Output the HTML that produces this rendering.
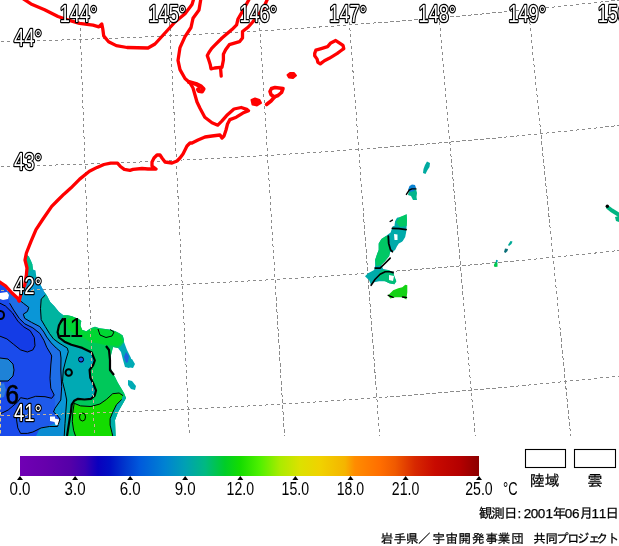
<!DOCTYPE html>
<html><head><meta charset="utf-8"><style>
html,body{margin:0;padding:0;background:#fff;}
body{width:619px;height:546px;overflow:hidden;}
svg{display:block;}
</style></head><body>
<svg width="619" height="546" viewBox="0 0 619 546">
<defs><linearGradient id="cb" x1="0" x2="1" y1="0" y2="0"><stop offset="0.0000" stop-color="#7000b4"/><stop offset="0.0545" stop-color="#6600ac"/><stop offset="0.1089" stop-color="#5500a8"/><stop offset="0.1416" stop-color="#3a00b0"/><stop offset="0.1699" stop-color="#0a00be"/><stop offset="0.1961" stop-color="#0010c3"/><stop offset="0.2288" stop-color="#0037cd"/><stop offset="0.2614" stop-color="#005adc"/><stop offset="0.3159" stop-color="#0082d2"/><stop offset="0.3595" stop-color="#00a0b4"/><stop offset="0.4031" stop-color="#00b982"/><stop offset="0.4466" stop-color="#00cd28"/><stop offset="0.4793" stop-color="#14dc00"/><stop offset="0.5229" stop-color="#50f000"/><stop offset="0.5664" stop-color="#aaeb00"/><stop offset="0.6100" stop-color="#dce100"/><stop offset="0.6536" stop-color="#f0d200"/><stop offset="0.7081" stop-color="#f5b400"/><stop offset="0.7298" stop-color="#ff8c00"/><stop offset="0.7843" stop-color="#ff6e00"/><stop offset="0.8170" stop-color="#f05a00"/><stop offset="0.8606" stop-color="#d72800"/><stop offset="0.9041" stop-color="#c80a00"/><stop offset="0.9586" stop-color="#b40000"/><stop offset="1.0000" stop-color="#8c0000"/></linearGradient>
<clipPath id="blobclip"><polygon points="27,255 28.8,256.5 31,261 32.3,264.2 33,269.4 35.5,270.6 36.2,275.8 36.8,280 38.5,282 40.3,284.4 43.6,291 46.9,295.4 50.2,302 54.6,306.4 59,311.9 63.4,315.2 67.7,315.2 72.1,316.3 75,317.4 78.4,318.8 81.3,321 80.5,325.4 82,329.7 86.3,331.2 90.7,328.3 95,326.8 99.4,328.3 105.2,329 111,329.7 115.4,331.2 119.8,333.4 122.7,335.5 124,340 124,342 127,350 131,358 132,365 129,368 125,367 123,360 121,352 118,348 113,347 111,355 110,365 112,372 115,377 118,383 121,388 124,393 126,398 122,405 118,412 115,420 115.3,430 115.5,436 0,436 0,282 5.5,285.8 12,293 18,298.5 19.2,301 21.4,292 24.7,285.3 26.4,274.8 27,268 25.5,260"/></clipPath>
<clipPath id="mapclip"><rect x="0" y="0" width="619" height="436"/></clipPath></defs>
<rect x="0" y="0" width="619" height="546" fill="#fff"/>
<g clip-path="url(#mapclip)">
<g fill="none" stroke="#8c8c8c" stroke-width="1" stroke-dasharray="3.5 2.5" shape-rendering="crispEdges"><line x1="-9.6" y1="22.0" x2="-0.4" y2="438.0"/><line x1="80.0" y1="22.0" x2="94.5" y2="438.0"/><line x1="169.7" y1="22.0" x2="189.5" y2="438.0"/><line x1="259.5" y1="22.0" x2="284.6" y2="438.0"/><line x1="349.4" y1="22.0" x2="379.8" y2="438.0"/><line x1="439.5" y1="22.0" x2="475.3" y2="438.0"/><line x1="529.8" y1="22.0" x2="570.9" y2="438.0"/><line x1="620.3" y1="22.0" x2="666.8" y2="438.0"/><line x1="711.1" y1="22.0" x2="762.9" y2="438.0"/><polyline points="-5.0,41.9 11.2,41.5 27.3,41.1 43.5,40.6 59.6,40.1 75.8,39.6 91.9,39.0 108.1,38.4 124.2,37.8 140.4,37.1 156.5,36.4 172.7,35.6 188.8,34.8 205.0,34.0 221.2,33.1 237.3,32.2 253.5,31.3 269.6,30.3 285.8,29.3 301.9,28.2 318.1,27.1 334.2,26.0 350.4,24.8 366.5,23.6 382.7,22.4 398.8,21.1 415.0,19.8 431.2,18.5 447.3,17.1 463.5,15.7 479.6,14.2 495.8,12.7 511.9,11.1 528.1,9.6 544.2,8.0 560.4,6.3 576.5,4.6 592.7,2.9 608.8,1.1 625.0,-0.7"/><polyline points="-5.0,166.7 11.2,166.3 27.3,165.9 43.5,165.4 59.6,164.9 75.8,164.4 91.9,163.9 108.1,163.3 124.2,162.6 140.4,162.0 156.5,161.2 172.7,160.5 188.8,159.7 205.0,158.9 221.2,158.1 237.3,157.2 253.5,156.2 269.6,155.3 285.8,154.3 301.9,153.3 318.1,152.2 334.2,151.1 350.4,149.9 366.5,148.8 382.7,147.5 398.8,146.3 415.0,145.0 431.2,143.7 447.3,142.3 463.5,140.9 479.6,139.5 495.8,138.0 511.9,136.5 528.1,134.9 544.2,133.3 560.4,131.7 576.5,130.1 592.7,128.4 608.8,126.6 625.0,124.9"/><polyline points="-5.0,290.9 11.2,290.6 27.3,290.2 43.5,289.7 59.6,289.2 75.8,288.7 91.9,288.2 108.1,287.6 124.2,287.0 140.4,286.3 156.5,285.6 172.7,284.9 188.8,284.1 205.0,283.3 221.2,282.5 237.3,281.6 253.5,280.7 269.6,279.8 285.8,278.8 301.9,277.8 318.1,276.7 334.2,275.6 350.4,274.5 366.5,273.3 382.7,272.1 398.8,270.9 415.0,269.6 431.2,268.3 447.3,267.0 463.5,265.6 479.6,264.2 495.8,262.7 511.9,261.3 528.1,259.7 544.2,258.2 560.4,256.6 576.5,255.0 592.7,253.3 608.8,251.6 625.0,249.8"/><polyline points="-5.0,415.8 11.2,415.4 27.3,415.0 43.5,414.6 59.6,414.1 75.8,413.6 91.9,413.1 108.1,412.5 124.2,411.9 140.4,411.2 156.5,410.5 172.7,409.8 188.8,409.1 205.0,408.3 221.2,407.5 237.3,406.6 253.5,405.7 269.6,404.8 285.8,403.8 301.9,402.8 318.1,401.8 334.2,400.7 350.4,399.6 366.5,398.5 382.7,397.3 398.8,396.1 415.0,394.8 431.2,393.6 447.3,392.2 463.5,390.9 479.6,389.5 495.8,388.1 511.9,386.6 528.1,385.1 544.2,383.6 560.4,382.0 576.5,380.4 592.7,378.8 608.8,377.1 625.0,375.4"/></g>
<g stroke="none">
<polygon fill="#00aab4" points="27,255 28.8,256.5 31,261 32.3,264.2 33,269.4 35.5,270.6 36.2,275.8 36.8,280 38.5,282 40.3,284.4 43.6,291 46.9,295.4 50.2,302 54.6,306.4 59,311.9 63.4,315.2 67.7,315.2 72.1,316.3 75,317.4 78.4,318.8 81.3,321 80.5,325.4 82,329.7 86.3,331.2 90.7,328.3 95,326.8 99.4,328.3 105.2,329 111,329.7 115.4,331.2 119.8,333.4 122.7,335.5 124,340 124,342 127,350 131,358 132,365 129,368 125,367 123,360 121,352 118,348 113,347 111,355 110,365 112,372 115,377 118,383 121,388 124,393 126,398 122,405 118,412 115,420 115.3,430 115.5,436 0,436 0,282 5.5,285.8 12,293 18,298.5 19.2,301 21.4,292 24.7,285.3 26.4,274.8 27,268 25.5,260"/>
<polygon fill="#00be8c" points="27,255 28.8,256.5 31,261 32.3,264.2 33,269.4 30,271 27.5,268 26.5,262"/>
<polygon fill="#00b4a0" points="40.3,284.4 43.6,291 46.9,295.4 50.2,302 54.6,306.4 59,311.9 63.4,315.2 62,320 58,327 57.5,333 59,337.5 64.5,341.7 59,343 53.5,338.9 49.4,333.4 45.3,326.6 41.2,319.7 40.5,308.7 41.2,299.1 45.3,295"/>
<polygon fill="#00c85a" points="63.4,315.2 67.7,315.2 72.1,316.3 75,317.4 78.4,318.8 81.3,321 80.5,325.4 82,329.7 86.3,331.2 90.7,328.3 95,326.8 99.4,328.3 105.2,329 111,329.7 115.4,331.2 119.8,333.4 122.7,335.5 124,340 124,342 121,346 118,348 113,347 111,355 110,365 112,372 115,377 118,383 121,388 124,393 126,398 122,405 118,412 115,420 115.3,430 115.5,436 67,436 68.5,426.4 69.7,418.7 71,411 71.7,404.6 74.2,400.8 78,398.8 84.5,399.5 90.9,398.8 94.7,395.6 96,390.5 93.5,384.1 90.3,377.7 89.6,370 93.2,365 94.8,360.3 91.7,352.6 82.3,347.9 71.4,344.8 64.5,341.7 59,337.5 57.6,332.1 59,325.2 63.1,318.3"/>
<polygon fill="#14dc00" points="74.2,403.3 80.6,405.9 90.9,406.5 99.9,404 106.3,399.5 112.7,393.7 119.1,393 123,395.6 121.7,399.5 116.5,404.6 112.7,412.3 110.1,418.7 110.1,425.1 112,432.8 112.7,436 75.5,436 73.6,430.3 72.3,421.3 73,411"/>
<polygon fill="#00d732" points="66,320 72,317 78,319 80,325 82,330 86,332 92,329 99,329 108,330 116,332 121,336 123,342 118,346 105,345 96,343 90,342 84,338 74,334 68,329"/>
<polygon fill="#00afaa" points="123,395.6 126,398 122,405 118,412 115,420 115.3,430 115.5,436 112.7,436 112,432.8 110.1,425.1 110.1,418.7 112.7,412.3 116.5,404.6 121.7,399.5"/>
<!-- light blue: left of C4 -->
<polygon fill="#0a96d7" points="45.3,295 41.2,299.1 40.5,308.7 41.2,319.7 45.3,326.6 49.4,333.4 53.5,338.9 59,343 62.1,344.9 67.3,348.1 68.3,351.7 65.8,360 63.3,370 62.5,381.7 65,391.7 66.7,400 65.8,411.7 65,423.3 64.2,436 0,436 0,282 5.5,285.8 12,293 18,298.5 19.2,301 21.4,292 24.7,285.3 26.4,276 30,276 35,278 38.5,282 40.3,284.4 43.6,291"/>
<!-- blue: left of C3 -->
<polygon fill="#1e6ee6" points="16.5,297.7 23.3,303.2 28.8,307.4 27.4,311.5 23.3,314.2 24.7,318.3 31.6,322.4 39.8,326.6 43.9,332.1 46.7,337 51.2,342.9 56.3,348.1 60.2,351.3 61,358 60.8,370 61.7,386.7 60.8,400 55,408.3 53.5,412 57,415 60,419 60.5,426 62,436 0,436 0,282 5.5,285.8 12,293"/>
<polygon fill="#1e5aeb" points="17,412 17.8,401.8 20.6,397.7 27.4,399 35.7,396.3 45,396.7 51.7,398.3 54.2,395 55,400 55,408.3 53.5,412 57,415 60,419 57.6,426.5 49.4,426.5 41.2,427.9 32.9,432 27.4,433.4 20.6,433.4 17.8,427.9 16.5,419.6"/>
<!-- deep blue: left of C2 and bottom -->
<polygon fill="#1a4beb" points="9.6,303.2 13.7,310.1 19.2,318.3 24.7,323.8 32.9,327.9 39.8,333.4 43.9,340.3 46.7,347.2 50.8,354 51.7,356 50.8,365 50,378.3 50.8,388.3 54.2,395 51.7,398.3 45,396.7 35.7,396.3 27.4,399 20.6,397.7 17.8,401.8 8.2,410 0,414 0,282 5.5,285.8"/>
<polygon fill="#1a4beb" points="0,414 8.2,410 17.8,401.8 17,412 16.5,419.6 17.8,427.9 20.6,433.4 27.4,433.4 32.9,432 41.2,427.9 49.4,426.5 57.6,426.5 60,430 61,436 0,436"/>
<!-- core -->
<polygon fill="#143ce6" points="0,303.2 5.5,306 12.4,312.8 17.8,321.1 23.3,326.6 30.2,330.7 34.3,337.5 35,345.8 32.9,349.9 27.4,352 20.6,349.9 13.7,344.4 6.9,338.9 0,336.2"/>
<polygon fill="#0a8cd2" points="36,436 40,428 50,425.5 58,421 61,414 62,405 63,436"/>
<polygon fill="#1e82d7" points="0,358 8,359 13,364 14,370 13,376 8,381 0,381"/>
<polygon fill="#2a78e0" points="0,384 4,383 6,390 4,397 0,398"/>
<!-- clouds -->
<polygon fill="#fff" points="50,416.5 55,416.5 55,418.5 59,419.5 59,425 55.5,425 54.5,422 50,421"/>
<polygon fill="#fff" points="0,293 7,292 9,295 8,299 3,300 0,299"/>
<polygon fill="#125ae6" points="78.5,357 83,356.5 84.5,360 82.5,363 79,362.5"/>
<polygon fill="#00aab4" points="125,360 132,359 135,364 133,368 127,367"/>
<polygon fill="#00aab4" points="128,380 132,381 136,386 135,390 131,389 128,385"/>
<polygon fill="#1e64dc" points="126,352 129,356 128,362 126,363 124,357"/>
</g>
<g fill="none" stroke="#000" stroke-width="1" stroke-linejoin="round">
<polyline points="0,303.2 5.5,306 12.4,312.8 17.8,321.1 23.3,326.6 30.2,330.7 34.3,337.5 35,345.8 32.9,349.9 27.4,352 20.6,349.9 13.7,344.4 6.9,338.9 0,336.2"/>
<polyline points="9.6,303.2 13.7,310.1 19.2,318.3 24.7,323.8 32.9,327.9 39.8,333.4 43.9,340.3 46.7,347.2 50.8,354 51.7,356 50.8,365 50,378.3 50.8,388.3 54.2,395 51.7,398.3 45,396.7 35.7,396.3 27.4,399 20.6,397.7 17.8,401.8 8.2,410 0,414"/>
<polyline points="16.5,297.7 23.3,303.2 28.8,307.4 27.4,311.5 23.3,314.2 24.7,318.3 31.6,322.4 39.8,326.6 43.9,332.1 46.7,337 51.2,342.9 56.3,348.1 60.2,351.3 61,358 60.8,370 61.7,386.7 60.8,400 55,408.3 53.5,412 57,415 60,419 57.6,426.5 49.4,426.5 41.2,427.9 32.9,432 27.4,433.4 20.6,433.4 17.8,427.9 16.5,419.6 17,412"/>
<polyline points="45.3,295 41.2,299.1 40.5,308.7 41.2,319.7 45.3,326.6 49.4,333.4 53.5,338.9 59,343 62.1,344.9 67.3,348.1 68.3,351.7 65.8,360 63.3,370 62.5,381.7 65,391.7 66.7,400 65.8,411.7 65,423.3 64.2,436"/>
<polyline points="0,358 8,359 13,364 14,370 13,376 8,381 0,381"/>
<line x1="0.5" y1="382" x2="0.5" y2="436" stroke="#dcc88c" stroke-dasharray="3.5 2.5"/>
<polyline points="74.2,403.3 80.6,405.9 90.9,406.5 99.9,404 106.3,399.5 112.7,393.7 119.1,393 123,395.6"/>
<polyline points="74.2,403.3 73,411 72.3,421.3 73.6,430.3 75.5,436"/>
<ellipse cx="82.5" cy="417" rx="3" ry="4"/>
<ellipse cx="81" cy="359.5" rx="2.5" ry="2.5"/>
<polyline points="98,329 100,335 106,337.5 112,336 114,332 110,329.5"/>
<polyline points="121.7,399.5 116.5,404.6 112.7,412.3 110.1,418.7 110.1,425.1 112,432.8 112.7,436"/>
</g>
<g fill="none" stroke="#000" stroke-width="2" stroke-linejoin="round">
<ellipse cx="68.7" cy="372.5" rx="3.2" ry="3.3"/>
<ellipse cx="0.5" cy="315" rx="3.5" ry="4"/>
</g>
<g fill="none" stroke="#000" stroke-width="2.2" stroke-linejoin="round">
<polyline points="63.1,318.3 59,325.2 57.6,332.1 59,337.5 64.5,341.7 71.4,344.8 82.3,347.9 91.7,352.6 94.8,360.3 93.2,365 89.6,370 90.3,377.7 93.5,384.1 96,390.5 94.7,395.6 90.9,398.8 84.5,399.5 78,398.8 74.2,400.8 71.7,404.6 71,411 69.7,418.7 68.5,426.4 67,436"/>
<polyline points="106,346 109,350 110,360 110,370 114,375"/>
</g>
<g font-family="'Liberation Sans',sans-serif" fill="#000">
<text x="57.5" y="336.6" font-size="27" textLength="26" lengthAdjust="spacingAndGlyphs">11</text>
<text x="5.4" y="404" font-size="27.5" textLength="13.5" lengthAdjust="spacingAndGlyphs" stroke="#000" stroke-width="0.6">6</text>
</g>

<g stroke="none">
<!-- A -->
<polygon fill="#00aaa0" points="427,161.5 430,163 429.5,167 427.5,170 425.5,174 423,173 423.5,169 425,165"/>
<!-- B -->
<polygon fill="#00b48c" points="409,190 413,188 416,189 417,193 416.5,197 417,200 413,200 411,196 408,195"/>
<polygon fill="#0a82d2" points="409.5,186 412,184.5 415,185 416,188 414,191 410,192 408,190"/>
<!-- C -->
<polygon fill="#00aaaa" points="397,217.8 402.5,216.4 406.6,214.2 407,220.6 406.6,227 406.1,232.5 405.2,237 402.5,241.6 398.8,243.4 397,246.2 395.1,249.9 392.4,251.7 390.2,252 389.2,256 385.2,261.1 381.2,265.1 383.2,269.1 388.2,270.1 393.2,272.2 394.3,276.2 396.3,281.2 394.3,284.3 389.2,283.2 385.2,281.2 379.1,281.2 374.1,282.2 371.1,285.3 369.1,280.2 365,276.2 368.1,273.2 374.1,270.1 375.1,266.1 375.1,260.1 377.1,254 378.7,250 378.7,243.4 381.4,238.9 386,236.1 390.6,232.5 392.4,227 394.2,223.3 396,219.6"/>
<polygon fill="#00c864" points="400,217 406.6,214.2 407,220.6 406.6,226 400,227 396,222"/>
<polygon fill="#00c864" points="378.7,243.4 381.4,238.9 386,236.1 389,237 389,246 390,251 389.2,256 385.2,261.1 381.2,265.1 376,266 375.1,260.1 377.1,254 378.7,250"/>
<polygon fill="#00be78" points="381,270 388.2,270.1 393.2,272.2 394.3,276.2 396.3,281.2 394.3,284.3 389.2,283.2 385.2,281.2 380,280 378,275"/>
<polygon fill="#fff" points="394,234 397.5,234.5 397.5,240 394.5,240"/>
<polygon fill="#fff" points="390,219 395,220.5 394.5,226 390,226.5"/>
<polygon fill="#fff" points="402,242 407.5,238 407.5,253 398,253 400,247"/>
<polygon fill="#fff" points="386,262 391,259 393,266 388,268"/>
<polygon fill="#fff" points="389,275 394,276 393,281 389,280"/>
<!-- D -->
<polygon fill="#14d214" points="388.2,295.3 393.2,290.3 398.3,288.3 402.3,287.3 405.3,284.8 407.3,285.3 407.3,292.3 406.3,299.4 402.3,297.3 395.3,297.3 390.2,298.4"/>
<!-- right pieces -->
<polygon fill="#00aa96" points="510.5,241 512.5,241.5 511.5,244 509,246 508,245"/>
<polygon fill="#0a6e78" points="505,248.5 508,249 507.5,251 505.5,253 504,252"/>
<polygon fill="#00a0b4" points="496,259.7 498,260.5 497,263 495.5,264"/>
<polygon fill="#00c850" points="495.5,262 497.5,263 497.5,266.8 494.5,267 493.8,265"/>
<polyline fill="none" stroke="#00b482" stroke-width="4" stroke-linecap="round" points="608,207.5 612,210.5 616,213 620,215.5"/>
<polygon fill="#00b482" points="615,217 619,216 619,222 616,221"/>
<circle cx="607.3" cy="206.3" r="1.7" fill="#000"/>
</g>
<g fill="none" stroke="#000" stroke-width="1.4" stroke-linejoin="round" stroke-linecap="round">
<polyline points="406.4,194.4 409.2,190.2 411.9,188.9 416,188.9"/>
<polyline points="390.1,221.5 392.4,220.1"/>
<polyline points="392.4,228.3 399,228.6 406.1,229.7" stroke-width="1.8"/>
<polyline points="388.3,236.1 388.7,243.4 390.6,249.9 392.4,251.7" stroke-width="1.8"/>
<polyline points="375.1,268.1 380.1,268.1 385.2,263.1 390.2,258.1" stroke-width="1.6"/>
<polyline points="371.1,285.3 375.1,279.2 380.1,274.2 385.2,271.7 390.2,271.7 393.2,272.7" stroke-width="1.6"/>
<polyline points="388.2,295.3 393.2,297.3"/>
<polyline points="402.5,297 406.5,297.5"/>
</g>

<g fill="none" stroke="#c8b496" stroke-width="1" stroke-dasharray="3.5 2.5" clip-path="url(#blobclip)" shape-rendering="crispEdges"><line x1="-9.6" y1="22.0" x2="-0.4" y2="438.0"/><line x1="80.0" y1="22.0" x2="94.5" y2="438.0"/><line x1="169.7" y1="22.0" x2="189.5" y2="438.0"/><line x1="259.5" y1="22.0" x2="284.6" y2="438.0"/><line x1="349.4" y1="22.0" x2="379.8" y2="438.0"/><line x1="439.5" y1="22.0" x2="475.3" y2="438.0"/><line x1="529.8" y1="22.0" x2="570.9" y2="438.0"/><line x1="620.3" y1="22.0" x2="666.8" y2="438.0"/><line x1="711.1" y1="22.0" x2="762.9" y2="438.0"/><polyline points="-5.0,41.9 11.2,41.5 27.3,41.1 43.5,40.6 59.6,40.1 75.8,39.6 91.9,39.0 108.1,38.4 124.2,37.8 140.4,37.1 156.5,36.4 172.7,35.6 188.8,34.8 205.0,34.0 221.2,33.1 237.3,32.2 253.5,31.3 269.6,30.3 285.8,29.3 301.9,28.2 318.1,27.1 334.2,26.0 350.4,24.8 366.5,23.6 382.7,22.4 398.8,21.1 415.0,19.8 431.2,18.5 447.3,17.1 463.5,15.7 479.6,14.2 495.8,12.7 511.9,11.1 528.1,9.6 544.2,8.0 560.4,6.3 576.5,4.6 592.7,2.9 608.8,1.1 625.0,-0.7"/><polyline points="-5.0,166.7 11.2,166.3 27.3,165.9 43.5,165.4 59.6,164.9 75.8,164.4 91.9,163.9 108.1,163.3 124.2,162.6 140.4,162.0 156.5,161.2 172.7,160.5 188.8,159.7 205.0,158.9 221.2,158.1 237.3,157.2 253.5,156.2 269.6,155.3 285.8,154.3 301.9,153.3 318.1,152.2 334.2,151.1 350.4,149.9 366.5,148.8 382.7,147.5 398.8,146.3 415.0,145.0 431.2,143.7 447.3,142.3 463.5,140.9 479.6,139.5 495.8,138.0 511.9,136.5 528.1,134.9 544.2,133.3 560.4,131.7 576.5,130.1 592.7,128.4 608.8,126.6 625.0,124.9"/><polyline points="-5.0,290.9 11.2,290.6 27.3,290.2 43.5,289.7 59.6,289.2 75.8,288.7 91.9,288.2 108.1,287.6 124.2,287.0 140.4,286.3 156.5,285.6 172.7,284.9 188.8,284.1 205.0,283.3 221.2,282.5 237.3,281.6 253.5,280.7 269.6,279.8 285.8,278.8 301.9,277.8 318.1,276.7 334.2,275.6 350.4,274.5 366.5,273.3 382.7,272.1 398.8,270.9 415.0,269.6 431.2,268.3 447.3,267.0 463.5,265.6 479.6,264.2 495.8,262.7 511.9,261.3 528.1,259.7 544.2,258.2 560.4,256.6 576.5,255.0 592.7,253.3 608.8,251.6 625.0,249.8"/><polyline points="-5.0,415.8 11.2,415.4 27.3,415.0 43.5,414.6 59.6,414.1 75.8,413.6 91.9,413.1 108.1,412.5 124.2,411.9 140.4,411.2 156.5,410.5 172.7,409.8 188.8,409.1 205.0,408.3 221.2,407.5 237.3,406.6 253.5,405.7 269.6,404.8 285.8,403.8 301.9,402.8 318.1,401.8 334.2,400.7 350.4,399.6 366.5,398.5 382.7,397.3 398.8,396.1 415.0,394.8 431.2,393.6 447.3,392.2 463.5,390.9 479.6,389.5 495.8,388.1 511.9,386.6 528.1,385.1 544.2,383.6 560.4,382.0 576.5,380.4 592.7,378.8 608.8,377.1 625.0,375.4"/></g>
<g fill="none" stroke="#f00" stroke-width="3.3" stroke-linejoin="round" stroke-linecap="round">
<polyline points="22,-2 31,3.9 44.6,9.7 58,16.5 66,19.4 79.5,23.3 93,25.2 98.9,26.8 101.8,24 102.8,29 103.7,35.9 108.6,41.7 116.3,45.6 127,47.5 148,48 155,44 165,33 175,22 185,13.7 192,4.6 194,-2"/>
<polyline points="201,-2 199,10 193,18.3 191,27.5 185,36.6 180,47.6 178,60.4 180,69.6 185,78.5 190,83 193,88 195,95 197,102 200,108.3 204.8,117.2 212,122.8 217.8,125.2 221.8,121.2 227.5,114.7 234,109 241.2,107.5 246.8,109.4 248.5,110.7 242.8,113.1 236.3,117.2 229.9,119.6 227.5,124 226,130 224,136 222,138 220,135 212,136 205,137 198,140 192,143 190,143 187,146 185,150 183,154 180,158 177,161 172,163 165,162 162,158 160,155 157,155 154,158 152,162 152,166 156,169 148,169 142,168.5 133,169.4 130,170.3 124.3,169.4 120.4,166.5 117.5,163.1 110.7,163.1 103.9,164.5 97.1,167.4 89.4,171.3 79.7,179.1 70.8,188.1 64.2,193.9 58,200 51.7,206.4 43,219 36,229.6 31,241.3 26.4,253 25,260 27,268 26.4,274.8 24.7,285.3 21.4,291.9 19.2,300.7"/>
<polyline points="189,82 196,84 201,86.5 203.5,89 202,91.5 199,91 198,89.5" stroke-width="4.2"/>
<polyline points="-2,281 5.5,285.8 12,293 18,298.5 19.2,301"/>
<polyline points="249.8,-2 243.9,8.8 238,19 236.6,24.9 232.2,29.3 222,38 214.6,45.4 211.7,48.3 208.8,52.7 207.3,55.6 208.8,60 210.2,64.4 211,68.8 214.6,68 220.5,67.3 221.2,76.1"/>
<polyline points="268,-2 263,8.8 252.7,22 248.3,27 245.4,29.3 242.5,31.5 242.5,38 239.5,41.7 229.3,44.7 225.6,49.8 223.4,54.2 223.4,60 222,67.3"/>
<polygon points="314.7,53.4 315.9,50.2 321.2,48.6 327.6,46.6 330.8,42.9 335.7,40.5 338.1,42.1 343,45.3 343.8,48.6 340.5,51 337.3,53.4 333.3,55.8 329.2,58.3 324.4,60.7 320.3,63.9 317.9,62.3 317.1,59.1 314.7,55.8"/>
<polygon points="270,91.5 271.5,88.5 275,87.5 279,88 283,88.5 281.5,92.5 278,95.5 274,97 271,94.5" stroke-width="3.6"/>
<polyline points="274.5,97 271,101 266.5,104.5" stroke-width="3.6"/>
</g>
<g fill="#f00" stroke="#f00" stroke-width="2" stroke-linejoin="round">
<polygon points="251.5,100 255,98.5 259.5,100 261,103 257,105.5 252.5,104.5"/>
<polygon points="287.5,75 290,73 294,73 296,75.5 293,78 289,77.5"/>
</g>

<g font-family="'Liberation Sans', sans-serif" font-size="23" fill="#fff" stroke="#000" stroke-width="2.6" paint-order="stroke" stroke-linejoin="round"><text x="59.7" y="22" textLength="37.5" lengthAdjust="spacingAndGlyphs">144°</text><text x="148.5" y="22" textLength="37.5" lengthAdjust="spacingAndGlyphs">145°</text><text x="239.4" y="22" textLength="37.5" lengthAdjust="spacingAndGlyphs">146°</text><text x="329.3" y="22" textLength="37.5" lengthAdjust="spacingAndGlyphs">147°</text><text x="418.6" y="22" textLength="37.5" lengthAdjust="spacingAndGlyphs">148°</text><text x="508.4" y="22" textLength="37.5" lengthAdjust="spacingAndGlyphs">149°</text><text x="597.7" y="22" textLength="37.5" lengthAdjust="spacingAndGlyphs">150°</text><text x="14" y="46.0" textLength="28" lengthAdjust="spacingAndGlyphs">44°</text><text x="14" y="170.0" textLength="28" lengthAdjust="spacingAndGlyphs">43°</text><text x="14" y="294.0" textLength="28" lengthAdjust="spacingAndGlyphs">42°</text><text x="14" y="420.5" textLength="28" lengthAdjust="spacingAndGlyphs">41°</text></g>
</g>
<rect x="20" y="456" width="459" height="20" fill="url(#cb)"/>
<g font-family="'Liberation Sans',sans-serif" font-size="18" fill="#000"><polygon points="17.0,480 23.0,480 20.0,476" fill="#000"/><text x="9.5" y="495.2" textLength="21" lengthAdjust="spacingAndGlyphs">0.0</text><polygon points="72.1,480 78.1,480 75.1,476" fill="#000"/><text x="64.6" y="495.2" textLength="21" lengthAdjust="spacingAndGlyphs">3.0</text><polygon points="127.2,480 133.2,480 130.2,476" fill="#000"/><text x="119.7" y="495.2" textLength="21" lengthAdjust="spacingAndGlyphs">6.0</text><polygon points="182.2,480 188.2,480 185.2,476" fill="#000"/><text x="174.7" y="495.2" textLength="21" lengthAdjust="spacingAndGlyphs">9.0</text><polygon points="237.3,480 243.3,480 240.3,476" fill="#000"/><text x="226.6" y="495.2" textLength="27.5" lengthAdjust="spacingAndGlyphs">12.0</text><polygon points="292.4,480 298.4,480 295.4,476" fill="#000"/><text x="281.6" y="495.2" textLength="27.5" lengthAdjust="spacingAndGlyphs">15.0</text><polygon points="347.5,480 353.5,480 350.5,476" fill="#000"/><text x="336.7" y="495.2" textLength="27.5" lengthAdjust="spacingAndGlyphs">18.0</text><polygon points="402.6,480 408.6,480 405.6,476" fill="#000"/><text x="391.8" y="495.2" textLength="27.5" lengthAdjust="spacingAndGlyphs">21.0</text><polygon points="476.0,480 482.0,480 479.0,476" fill="#000"/><text x="465.2" y="495.2" textLength="27.5" lengthAdjust="spacingAndGlyphs">25.0</text><text x="503" y="495.2" textLength="14.5" lengthAdjust="spacingAndGlyphs">°C</text></g>
<g font-family="'Liberation Sans',IPAGothic,'Noto Sans CJK JP',sans-serif" fill="#000" stroke="#000" stroke-width="0.25">
<rect x="525.5" y="449.5" width="40" height="18" fill="#fff" stroke="#000" stroke-width="1.1"/>
<rect x="574.5" y="449.5" width="41" height="18" fill="#fff" stroke="#000" stroke-width="1.1"/>
<text x="530" y="485.5" font-size="15" textLength="29.5" lengthAdjust="spacingAndGlyphs">陸域</text>
<text x="587.5" y="485.5" font-size="15">雲</text>
<text y="518" font-size="13.5" x="479.1 491.3 504.0 517.4 523.8 530.8 537.8 545.6 552.8 564.7 571.9 579.5 591.6 598.8 605.4">観測日:2001年06月11日</text>
<text y="542.5" font-size="12.5" x="380.8 393.8 405.9 418.0 432.5 445.5 458.4 472.0 485.5 497.8 511.3 533.3 545.6 556.0 567.0 577.0 588.0 596.0 607.0">岩手県／宇宙開発事業団共同プロジェクト</text>
</g>
</svg>
</body></html>
